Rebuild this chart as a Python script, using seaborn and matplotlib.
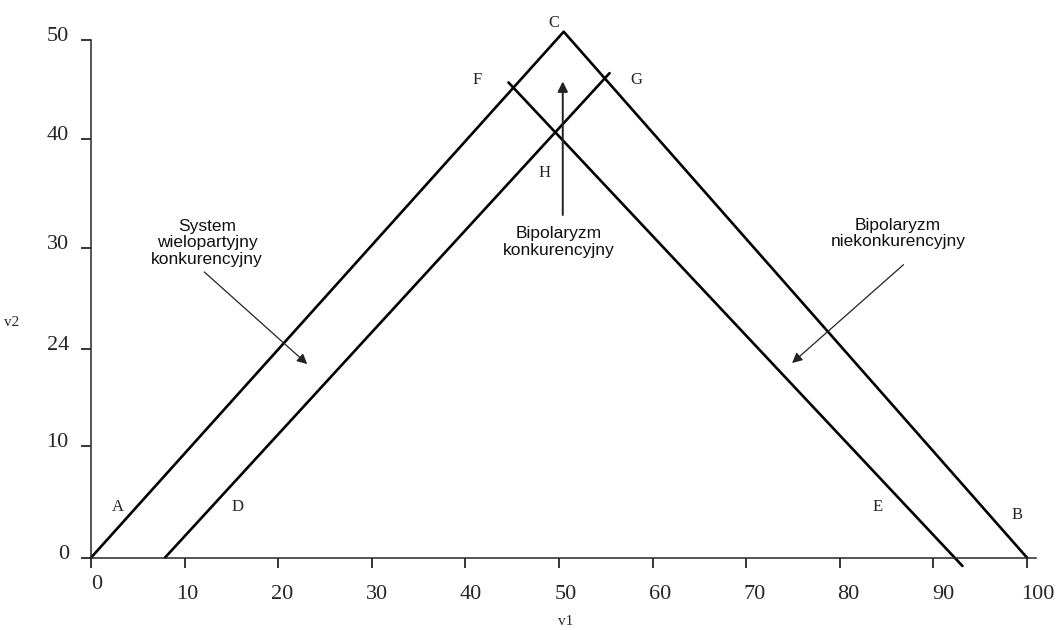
import matplotlib
matplotlib.use("Agg")
import matplotlib.pyplot as plt
import matplotlib.transforms as mtransforms
import seaborn as sns
import pandas as pd

# diagram lines (v1, v2)
outer_x = [0, 50.5, 100]
outer_y = [0, 50.8, 0]
left_inner_x = [7.9, 55.4]
left_inner_y = [0, 46.8]
right_inner_x = [44.6, 93.1]
right_inner_y = [45.9, -0.8]

# point labels
point_names = ["A", "B", "C", "D", "E", "F", "G", "H"]
point_x = [2.85, 98.9, 49.4, 15.7, 84.0, 41.3, 58.3, 48.5]
point_y = [4.9, 4.1, 51.6, 4.9, 4.9, 46.1, 46.1, 37.2]

# region annotations: text, text position, arrow start, arrow tip
region_texts = ["System\nwielopartyjny\nkonkurencyjny",
                "Bipolaryzm\nkonkurencyjny",
                "Bipolaryzm\nniekonkurencyjny"]
region_text_x = [12.4, 50.0, 86.2]
region_text_y = [30.4, 30.5, 31.3]
arrow_from_x = [12.1, 50.4, 86.8]
arrow_from_y = [27.6, 33.1, 28.3]
arrow_to_x = [23.1, 50.4, 74.9]
arrow_to_y = [18.7, 46.0, 18.8]

x_ticks = [0, 10, 20, 30, 40, 50, 60, 70, 80, 90, 100]
x_tick_labels = [str(t) for t in x_ticks]
y_ticks = [0, 10.8, 20.2, 29.9, 40.4, 50]
y_tick_labels = ["0", "10", "24", "30", "40", "50"]

sns.set_style("ticks")
serif = ["Liberation Serif", "DejaVu Serif"]
sans = ["Liberation Sans", "DejaVu Sans"]

fig = plt.figure(figsize=(10.59, 6.30), dpi=100)
ax = fig.add_axes([91 / 1059, 1 - 557.7 / 630, 945.4 / 1059, 517.7 / 630])

df = pd.concat([
    pd.DataFrame({"v1": outer_x, "v2": outer_y, "line": "outer"}),
    pd.DataFrame({"v1": left_inner_x, "v2": left_inner_y, "line": "left"}),
    pd.DataFrame({"v1": right_inner_x, "v2": right_inner_y, "line": "right"}),
])
sns.lineplot(data=df, x="v1", y="v2", units="line", estimator=None, sort=False,
             color="black", linewidth=1.9, ax=ax, legend=False)
for ln in ax.lines:
    ln.set_clip_on(False)

for name, px, py in zip(point_names, point_x, point_y):
    ax.text(px, py, name, ha="center", va="center", fontsize=12, family=serif)

for i, txt in enumerate(region_texts):
    ax.text(region_text_x[i], region_text_y[i], txt, ha="center", va="center",
            fontsize=12.5, family=sans, linespacing=1.1, color="#111111")
    lw = 1.4 if i == 1 else 0.9
    ax.annotate("", xy=(arrow_to_x[i], arrow_to_y[i]),
                xytext=(arrow_from_x[i], arrow_from_y[i]),
                arrowprops=dict(arrowstyle="-|>", color="#222222", lw=lw,
                                mutation_scale=15, shrinkA=0, shrinkB=0))

ax.set_xlim(0, 101)
ax.set_ylim(0, 50)
ax.set_xticks(x_ticks)
ax.set_xticklabels(x_tick_labels, family=serif, fontsize=16)
ax.set_yticks(y_ticks)
ax.set_yticklabels(y_tick_labels, family=serif, fontsize=16)
ax.tick_params(axis="x", length=7, width=1.1, pad=13, color="black")
ax.tick_params(axis="y", length=7, width=1.1, pad=9, color="black")

# the x labels drift a little to the right of their ticks, the 0 sits higher
for lab, t in zip(ax.get_xticklabels(), x_ticks):
    dx, dy = 2.3 + 0.08 * t, 0
    if t == 0:
        dx, dy = 6, 10
    lab.set_transform(lab.get_transform() + mtransforms.ScaledTranslation(dx / 100, dy / 100, fig.dpi_scale_trans))
for lab in ax.get_yticklabels():
    lab.set_transform(lab.get_transform() + mtransforms.ScaledTranslation(0, 6 / 100, fig.dpi_scale_trans))

sns.despine(ax=ax, top=True, right=True)
ax.spines["left"].set_linewidth(1.1)
ax.spines["bottom"].set_linewidth(1.1)

ax.set_xlabel("v1", family=serif, fontsize=11)
ax.xaxis.set_label_coords((566 - 91) / 945.4, (557.7 - 615) / 517.7)
ax.set_ylabel("v2", family=serif, fontsize=11, rotation=0, ha="center", va="center")
ax.yaxis.set_label_coords((12 - 91) / 945.4, (557.7 - 322) / 517.7)

fig.savefig("out.png", dpi=100)
